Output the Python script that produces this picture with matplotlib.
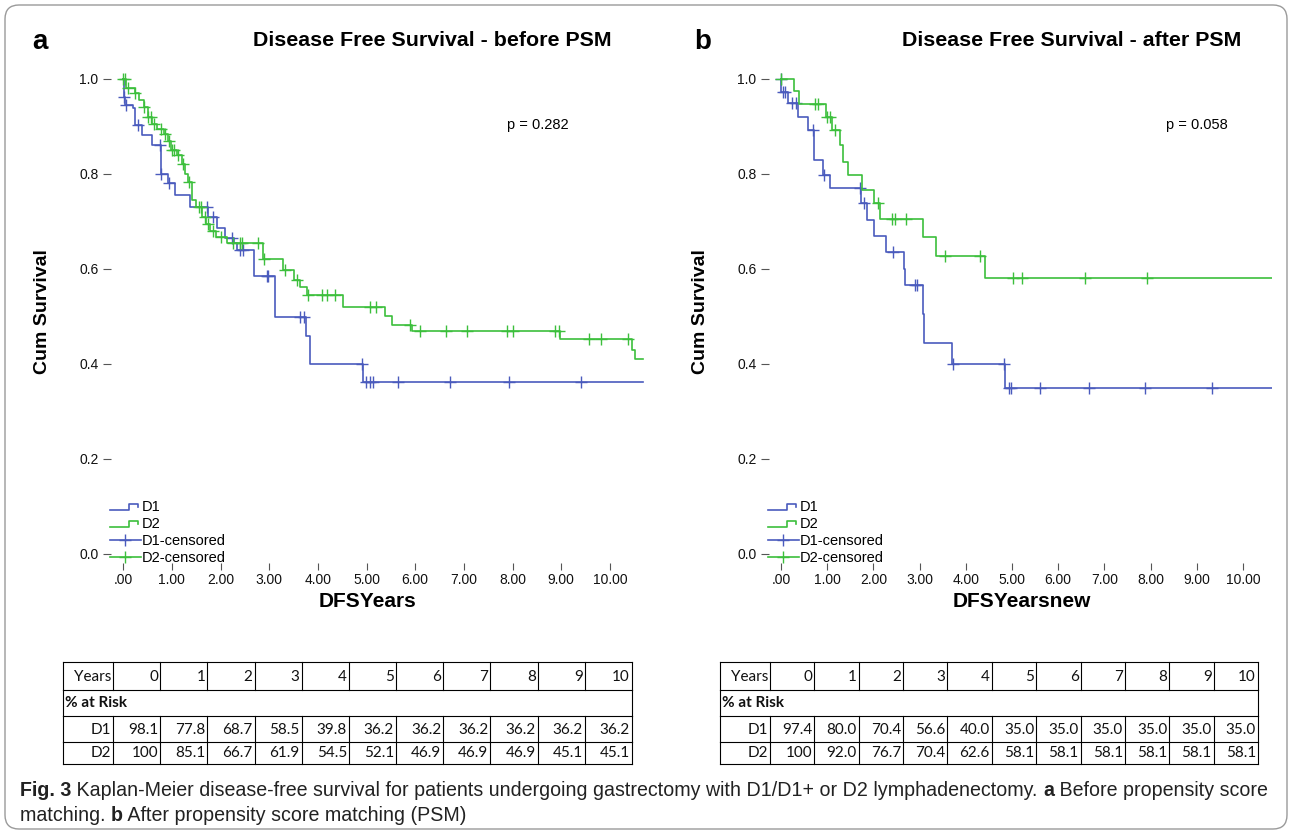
import numpy as np
import matplotlib
matplotlib.use("Agg")
import matplotlib.pyplot as plt
from matplotlib.lines import Line2D
from matplotlib.legend_handler import HandlerBase
from matplotlib.patches import FancyBboxPatch

plt.rcParams["font.family"] = ["Liberation Sans", "DejaVu Sans"]

BLUE = "#4a5bbd"
GREEN = "#3cbf3c"

# --- panel a: before PSM (step times, survival after each step, censor times)
a_d1_t = [0, 0.01, 0.04, 0.21, 0.25, 0.38, 0.59, 0.77, 0.93, 1.07, 1.38, 1.75,
          1.92, 2.09, 2.27, 2.33, 2.68, 3.12, 3.75, 3.84, 4.93]
a_d1_s = [1.0, 0.963, 0.945, 0.938, 0.903, 0.882, 0.861, 0.80, 0.78, 0.756, 0.731,
          0.71, 0.686, 0.665, 0.654, 0.64, 0.585, 0.498, 0.459, 0.40, 0.363]
a_d1_c = [0.02, 0.05, 0.3, 0.76, 0.78, 0.95, 1.72, 1.85, 2.23, 2.4, 2.47, 2.95,
          2.98, 3.63, 3.72, 4.9, 4.98, 5.07, 5.14, 5.65, 6.71, 7.93, 9.40]

a_d2_t = [0, 0.05, 0.25, 0.33, 0.42, 0.5, 0.59, 0.7, 0.83, 0.92, 0.99, 1.1, 1.2,
          1.27, 1.34, 1.41, 1.5, 1.62, 1.7, 1.79, 1.9, 2.13, 2.88, 3.29, 3.5,
          3.63, 3.77, 4.52, 5.38, 5.52, 5.93, 8.97, 10.45, 10.52]
a_d2_s = [1.0, 0.981, 0.97, 0.955, 0.94, 0.92, 0.905, 0.895, 0.885, 0.87, 0.851,
          0.84, 0.82, 0.80, 0.784, 0.745, 0.73, 0.71, 0.695, 0.68, 0.667, 0.654,
          0.62, 0.598, 0.577, 0.563, 0.545, 0.52, 0.50, 0.482, 0.469, 0.452,
          0.43, 0.41]
a_d2_c = [0.0, 0.03, 0.1, 0.25, 0.42, 0.52, 0.57, 0.63, 0.78, 0.85, 0.95, 1.0,
          1.05, 1.12, 1.22, 1.36, 1.55, 1.6, 1.68, 1.75, 1.85, 2.0, 2.25, 2.4,
          2.45, 2.78, 2.9, 3.33, 3.57, 3.8, 4.08, 4.18, 4.35, 5.07, 5.2, 5.9,
          6.1, 6.63, 7.06, 7.89, 8.0, 8.88, 8.95, 9.57, 9.81, 10.38]

# --- panel b: after PSM
b_d1_t = [0, 0.01, 0.16, 0.37, 0.59, 0.72, 0.9, 1.05, 1.73, 1.86, 2.01, 2.27,
          2.66, 2.68, 3.08, 3.10, 3.70, 4.85]
b_d1_s = [1.0, 0.973, 0.949, 0.92, 0.893, 0.829, 0.798, 0.77, 0.738, 0.704,
          0.67, 0.636, 0.60, 0.566, 0.505, 0.445, 0.40, 0.35]
b_d1_c = [0.0, 0.04, 0.09, 0.23, 0.32, 0.70, 0.92, 1.71, 1.8, 2.43, 2.9, 2.94,
          3.72, 4.83, 4.94, 4.98, 5.6, 6.67, 7.88, 9.34]

b_d2_t = [0, 0.28, 0.4, 0.97, 1.1, 1.28, 1.34, 1.46, 1.75, 2.01, 2.14, 3.07,
          3.36, 4.42]
b_d2_s = [1.0, 0.975, 0.947, 0.921, 0.893, 0.861, 0.826, 0.798, 0.767, 0.738,
          0.705, 0.667, 0.627, 0.582]
b_d2_c = [0.0, 0.74, 0.81, 0.99, 1.05, 1.17, 2.1, 2.4, 2.47, 2.7, 3.55, 4.31,
          5.03, 5.21, 6.58, 7.93]

# --- % at risk tables
years = [str(i) for i in range(11)]
risk_a_d1 = ["98.1", "77.8", "68.7", "58.5", "39.8", "36.2", "36.2", "36.2", "36.2", "36.2", "36.2"]
risk_a_d2 = ["100", "85.1", "66.7", "61.9", "54.5", "52.1", "46.9", "46.9", "46.9", "45.1", "45.1"]
risk_b_d1 = ["97.4", "80.0", "70.4", "56.6", "40.0", "35.0", "35.0", "35.0", "35.0", "35.0", "35.0"]
risk_b_d2 = ["100", "92.0", "76.7", "70.4", "62.6", "58.1", "58.1", "58.1", "58.1", "58.1", "58.1"]

W, H = 1292, 833
AX_TOP, AX_BOT = 60, 563


class StepHandler(HandlerBase):
    # little step glyph like the SPSS legend
    def create_artists(self, legend, orig_handle, xdescent, ydescent, width,
                       height, fontsize, trans):
        x = np.array([0, 0.62, 0.62, 0.92, 0.92]) * width - xdescent
        y = np.array([0.1, 0.1, 0.75, 0.75, 0.45]) * height - ydescent
        ln = Line2D(x, y, color=orig_handle.get_color(), lw=orig_handle.get_linewidth())
        ln.set_transform(trans)
        return [ln]


def km(ax, t, s, cens, t_end, color):
    ts = list(t) + [t_end]
    ss = list(s) + [s[-1]]
    line, = ax.step(ts, ss, where="post", color=color, lw=1.2)
    idx = np.searchsorted(t, cens, side="right") - 1
    cy = np.array(s)[idx]
    ax.plot(cens, cy, ls="none", marker="+", ms=8, mew=1.0, color=color)
    return line


def panel(left, right, xlim, d1, d2, t_end, pval, pval_x, xlabel, xlab_x, ylab_x):
    ax = fig.add_axes([left / W, 1 - AX_BOT / H, (right - left) / W, (AX_BOT - AX_TOP) / H])
    l1 = km(ax, *d1, t_end, BLUE)
    l2 = km(ax, *d2, t_end, GREEN)
    ax.set_xlim(*xlim)
    ax.set_ylim(-0.019, 1.04)
    ax.set_xticks(range(11))
    ax.set_xticklabels([".00"] + [f"{i}.00" for i in range(1, 11)])
    ax.set_yticks([0, 0.2, 0.4, 0.6, 0.8, 1.0])
    ax.set_yticklabels(["0.0", "0.2", "0.4", "0.6", "0.8", "1.0"])
    for sp in ax.spines.values():
        sp.set_visible(False)
    ax.tick_params(direction="out", length=6, width=0.8, color="#555",
                   labelsize=10, pad=3, labelcolor="#111")
    ax.tick_params(axis="x", length=5, pad=2)
    ax.set_xlabel(xlabel, fontsize=15, fontweight="bold")
    ax.set_ylabel("Cum Survival", fontsize=14, fontweight="bold")
    ax.xaxis.set_label_coords(xlab_x, -0.0775)
    ax.xaxis.label.set_va("center")
    ax.yaxis.set_label_coords(ylab_x, 0.5)
    ax.yaxis.label.set_va("center")
    ax.text(pval_x, 0.87, pval, transform=ax.transAxes, fontsize=10.5, ha="center", va="center")
    h3 = Line2D([], [], color=BLUE, lw=1.2, marker="+", ms=9, mew=1.0)
    h4 = Line2D([], [], color=GREEN, lw=1.2, marker="+", ms=9, mew=1.0)
    ax.legend([l1, l2, h3, h4], ["D1", "D2", "D1-censored", "D2-censored"],
              handler_map={l1: StepHandler(), l2: StepHandler()},
              loc="lower left", bbox_to_anchor=(-0.002, -0.004), frameon=False,
              fontsize=10.5, handlelength=2.1, handletextpad=0.1,
              labelspacing=0.2, borderpad=0, borderaxespad=0, numpoints=1)
    return ax


def table(ov, x0, first_w, right, d1_vals, d2_vals):
    ys = [662, 690, 716, 742, 764]
    ty = [677, 703, 730, 753]
    col_w = (right - x0 - first_w) / 11
    edges = [x0, x0 + first_w] + [x0 + first_w + col_w * (i + 1) for i in range(11)]
    kw = dict(color="black", lw=0.8)
    for y in ys:
        ov.plot([x0, right], [y, y], **kw)
    for r in (0, 2, 3):
        for x in edges:
            ov.plot([x, x], [ys[r], ys[r + 1]], **kw)
    for x in (x0, right):
        ov.plot([x, x], [ys[1], ys[2]], **kw)
    rows = [["Years"] + years, None, ["D1"] + d1_vals, ["D2"] + d2_vals]
    tk = dict(fontsize=11, family=["Lato", "DejaVu Sans"], ha="right", va="center", color="#111")
    for r, vals in enumerate(rows):
        if vals is None:
            ov.text(x0 + 2, ty[r], "% at Risk", fontsize=11, fontweight="bold",
                    family=["Lato", "DejaVu Sans"], ha="left", va="center", color="#111")
            continue
        for c, v in enumerate(vals):
            ov.text(edges[c + 1] - 2, ty[r], v, **tk)


fig = plt.figure(figsize=(W / 100, H / 100), dpi=100)
fig.patch.set_facecolor("white")

ov = fig.add_axes([0, 0, 1, 1])
ov.set_xlim(0, W)
ov.set_ylim(H, 0)
ov.axis("off")
ov.patch.set_visible(False)

ov.add_patch(FancyBboxPatch((5, 5), W - 10, H - 9,
                            boxstyle="round,pad=0,rounding_size=14",
                            ec="#9a9a9a", fc="none", lw=1.0))

ax_a = panel(111, 645, (-0.25, 10.72),
             (a_d1_t, a_d1_s, a_d1_c), (a_d2_t, a_d2_s, a_d2_c), 10.68,
             "p = 0.282", 0.80, "DFSYears", 0.481, -0.129)
ax_b = panel(769, 1272, (-0.26, 10.63),
             (b_d1_t, b_d1_s, b_d1_c), (b_d2_t, b_d2_s, b_d2_c), 10.62,
             "p = 0.058", 0.85, "DFSYearsnew", 0.503, -0.137)

fig.text(432 / W, 1 - 40 / H, "Disease Free Survival - before PSM", fontsize=15.4,
         fontweight="bold", ha="center", va="center")
fig.text(1072 / W, 1 - 40 / H, "Disease Free Survival - after PSM", fontsize=15.4,
         fontweight="bold", ha="center", va="center")
fig.text(40 / W, 1 - 42 / H, "a", fontsize=20, fontweight="bold", ha="center", va="center")
fig.text(703 / W, 1 - 42 / H, "b", fontsize=20, fontweight="bold", ha="center", va="center")

table(ov, 63, 50, 632, risk_a_d1, risk_a_d2)
table(ov, 720, 50, 1258, risk_b_d1, risk_b_d2)

# caption, bold bits placed one after another
cap_font = ["Liberation Sans", "DejaVu Sans"]
cap_lines = [
    (796, [("Fig. 3", True),
           (" Kaplan-Meier disease-free survival for patients undergoing gastrectomy with D1/D1+ or D2 lymphadenectomy. ", False),
           ("a", True), (" Before propensity score", False)]),
    (821, [("matching. ", False), ("b", True), (" After propensity score matching (PSM)", False)]),
]
renderer = fig.canvas.get_renderer()
for y, parts in cap_lines:
    x = 20
    for txt, bold in parts:
        t = ov.text(x, y, txt, fontsize=14.1, family=cap_font, color="#222",
                    fontweight="bold" if bold else "normal", ha="left", va="baseline")
        x = t.get_window_extent(renderer).x1

fig.savefig("out.png", dpi=100, facecolor="white")
